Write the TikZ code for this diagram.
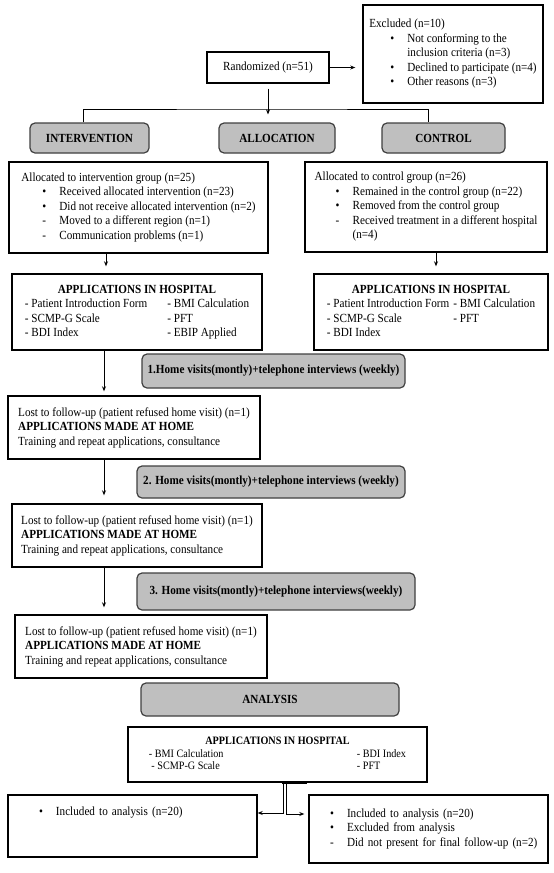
\documentclass[tikz,border=0pt]{standalone}
\usepackage{fontspec}
\setmainfont{Liberation Serif}[FakeStretch=0.9, BoldFont={Liberation Serif Bold}]
\usepackage{tikz}
\usetikzlibrary{arrows.meta,calc}
\tikzset{
  wbox/.style={draw, line width=1.4pt, align=left, inner sep=0pt},
  gbox/.style={draw=black!75, line width=1.2pt, fill=gray!50, rounded corners=5pt,
    font=\fontsize{12.4}{14.5}\selectfont\bfseries, inner sep=0pt},
  arr/.style={-{Stealth[length=5pt,width=4pt]}, line width=0.8pt},
}
\newcommand{\pitem}[2]{\hspace*{21pt}\makebox[17pt][l]{#1}#2}
\newcommand{\pcont}[1]{\hspace*{38pt}#1}

\begin{document}
\begin{tikzpicture}[x=1pt, y=-1pt, font=\fontsize{12.4}{14.5}\selectfont]
\useasboundingbox (0,0) rectangle (554,873);
% enrolment
\node[wbox, minimum width=122, minimum height=31] (rand) at (268,67.5) {Randomized (n=51)};
\node[wbox, minimum width=180, minimum height=98] (excl) at (453,54) {Excluded (n=10)\\
  \pitem{\textbullet}{Not conforming to the}\\
  \pcont{inclusion criteria (n=3)}\\
  \pitem{\textbullet}{Declined to participate (n=4)}\\
  \pitem{\textbullet}{Other reasons (n=3)}};
\draw[arr, shorten >=7pt] (rand.east) -- (rand.east -| excl.west);
% allocation headers
\node[gbox, minimum width=119, minimum height=30] (int) at (89.5,138) {INTERVENTION};
\node[gbox, minimum width=116, minimum height=30] (alloc) at (277,138) {ALLOCATION};
\node[gbox, minimum width=123, minimum height=30] (ctl) at (443.5,138) {CONTROL};
\coordinate (split) at (268,109);
\draw[arr, shorten <=5pt, shorten >=8pt] (rand.south) -- (rand.south |- alloc.north);
\draw[line width=0.8pt] ([xshift=-6.5pt]int.north) |- (split) -| ([xshift=-15.5pt]ctl.north);
% groups
\node[wbox, minimum width=259, minimum height=91] (intgrp) at (138.5,207.5) {Allocated to intervention group (n=25)\\
  \pitem{\textbullet}{Received allocated intervention (n=23)}\\
  \pitem{\textbullet}{Did not receive allocated intervention (n=2)}\\
  \pitem{-}{Moved to a different region (n=1)}\\
  \pitem{-}{Communication problems (n=1)}};
\node[wbox, minimum width=242, minimum height=90] (ctlgrp) at (426,207) {Allocated to control group (n=26)\\
  \pitem{\textbullet}{Remained in the control group (n=22)}\\
  \pitem{\textbullet}{Removed from the control group}\\
  \pitem{-}{Received treatment in a different hospital}\\
  \pcont{(n=4)}};
% applications in hospital
\node[wbox, minimum width=250, minimum height=76] (inthosp) at (137,312) {\begin{tabular}{@{}l@{\hspace{20pt}}l@{}}
  \multicolumn{2}{c}{\textbf{APPLICATIONS IN HOSPITAL}}\\
  - Patient Introduction Form & - BMI Calculation\\
  - SCMP-G Scale & - PFT\\
  - BDI Index & - EBIP Applied
  \end{tabular}};
\node[wbox, minimum width=234, minimum height=76] (ctlhosp) at (431,312) {\begin{tabular}{@{}l@{\hspace{4pt}}l@{}}
  \multicolumn{2}{c}{\textbf{APPLICATIONS IN HOSPITAL}}\\
  - Patient Introduction Form & - BMI Calculation\\
  - SCMP-G Scale & - PFT\\
  - BDI Index &
  \end{tabular}};
\draw[arr, shorten >=7pt] ([xshift=-32.5pt]intgrp.south) -- ([xshift=-32.5pt]intgrp.south |- inthosp.north);
\draw[arr, shorten >=7pt] ([xshift=10pt]ctlgrp.south) -- ([xshift=10pt]ctlgrp.south |- ctlhosp.north);
% home visits
\node[gbox, minimum width=263, minimum height=34] (visit1) at (273.5,371) {1.Home visits(montly)+telephone interviews (weekly)};
\node[wbox, minimum width=252, minimum height=63] (home1) at (134,427.5) {Lost to follow-up (patient refused home visit) (n=1)\\
  \textbf{APPLICATIONS MADE AT HOME}\\
  Training and repeat applications, consultance};
\node[gbox, minimum width=268, minimum height=32] (visit2) at (271,482) {2. Home visits(montly)+telephone interviews (weekly)};
\node[wbox, minimum width=250, minimum height=63] (home2) at (137,535.5) {Lost to follow-up (patient refused home visit) (n=1)\\
  \textbf{APPLICATIONS MADE AT HOME}\\
  Training and repeat applications, consultance};
\node[gbox, minimum width=278, minimum height=37] (visit3) at (276,591.5) {3. Home visits(montly)+telephone interviews(weekly)};
\node[wbox, minimum width=252, minimum height=63] (home3) at (141,646.5) {Lost to follow-up (patient refused home visit) (n=1)\\
  \textbf{APPLICATIONS MADE AT HOME}\\
  Training and repeat applications, consultance};
\draw[arr, shorten >=4pt] ([xshift=-33pt]inthosp.south) -- ([xshift=-33pt]inthosp.south |- home1.north);
\draw[arr, shorten >=8pt] ([xshift=-30pt]home1.south) -- ([xshift=-30pt]home1.south |- home2.north);
\draw[arr, shorten >=7pt] ([xshift=-33pt]home2.south) -- ([xshift=-33pt]home2.south |- home3.north);
% analysis
\node[gbox, minimum width=258, minimum height=33] (anl) at (270,699.5) {ANALYSIS};
\node[wbox, minimum width=299, minimum height=55, font=\fontsize{11.3}{12.5}\selectfont] (fhosp) at (277.5,754.5) {\begin{tabular}{@{}p{196pt}l@{}}
  \multicolumn{2}{c}{\textbf{APPLICATIONS IN HOSPITAL}}\\
  - BMI Calculation & - BDI Index\\
  \ - SCMP-G Scale & - PFT
  \end{tabular}};
\node[wbox, text width=229pt, inner xsep=10pt, minimum height=62] (incl) at (132.5,826) {\pitem{\textbullet}{Included to analysis (n=20)}\\ \mbox{}\\ \mbox{}};
\node[wbox, text width=239pt, minimum height=68] (fin) at (428.5,829) {\pitem{\textbullet}{Included to analysis (n=20)}\\
  \pitem{\textbullet}{Excluded from analysis}\\
  \pitem{-}{Did not present for final follow-up (n=2)}};
\draw[line width=2pt] ([xshift=4.5pt]fhosp.south) -- ([xshift=29.5pt]fhosp.south);
\draw[arr] ([xshift=5.5pt]fhosp.south) |- ([yshift=13pt]incl.east);
\draw[arr, shorten >=4pt] ([xshift=8.5pt]fhosp.south) |- ([yshift=15pt]fin.west);
\end{tikzpicture}
\end{document}
